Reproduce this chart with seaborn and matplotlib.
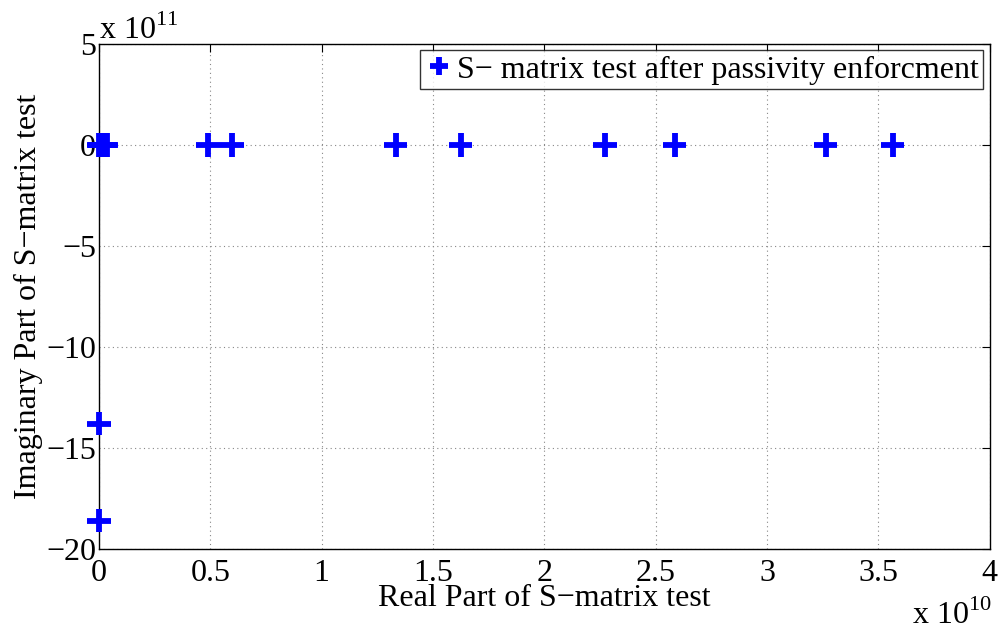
import matplotlib
matplotlib.use("Agg")
import matplotlib.pyplot as plt
import seaborn as sns
import pandas as pd
from matplotlib.ticker import FuncFormatter, MultipleLocator

# Data (real and imaginary parts)
real_part = [0.0, 0.005e10, 0.01e10, 0.015e10, 0.02e10, 0.025e10, 0.03e10, 0.035e10,
             0.489e10, 0.597e10, 1.333e10, 1.625e10, 2.272e10, 2.586e10, 3.264e10, 3.565e10,
             0.0, 0.0]
imag_part = [0.0, 0.0, 0.0, 0.0, 0.0, 0.0, 0.0, 0.0,
             0.0, 0.0, 0.0, 0.0, 0.0, 0.0, 0.0, 0.0,
             -13.8e11, -18.6e11]
series_label = "S\u2212 matrix test after passivity enforcment"

df = pd.DataFrame({"re": real_part, "im": imag_part, "s": series_label})

sns.set_theme(style="white")
plt.rcParams["font.family"] = ["Liberation Serif", "DejaVu Serif"]
plt.rcParams["mathtext.fontset"] = "custom"
plt.rcParams["mathtext.rm"] = "Liberation Serif"
plt.rcParams["text.color"] = "black"
plt.rcParams["axes.labelcolor"] = "black"

fig = plt.figure(figsize=(10.03, 6.3), dpi=100)
ax = fig.add_axes([0.0987, 0.1286, 0.888, 0.8016])

sns.scatterplot(data=df, x="re", y="im", hue="s", palette=[(0, 0, 1)], marker="+",
                s=280, linewidth=4.2, ax=ax, zorder=3, clip_on=False)

ax.set_xlim(0, 4e10)
ax.set_ylim(-20e11, 5e11)
ax.xaxis.set_major_locator(MultipleLocator(0.5e10))
ax.yaxis.set_major_locator(MultipleLocator(5e11))
ax.xaxis.set_major_formatter(FuncFormatter(lambda v, p: ("%g" % (v / 1e10)).replace("-", "\u2212")))
ax.yaxis.set_major_formatter(FuncFormatter(lambda v, p: ("%g" % (v / 1e11)).replace("-", "\u2212")))

ax.grid(True, linestyle=(0, (1, 3)), color="#888888", linewidth=0.8)
for sp in ax.spines.values():
    sp.set_color("black")
    sp.set_linewidth(1.0)
ax.tick_params(direction="in", length=6, width=0.8, top=True, right=True,
               labelsize=23, colors="black", pad=2)
ax.tick_params(axis="x", pad=7)

ax.set_xlabel("Real Part of S\u2212matrix test", fontsize=23, labelpad=-3)
ax.set_ylabel("Imaginary Part of S\u2212matrix test", fontsize=23, labelpad=2)

ax.text(0.0, 0.995, "x 10$^{11}$", transform=ax.transAxes, fontsize=23,
        ha="left", va="bottom")
fig.text(992 / 1003, 1 - 624 / 630, "x 10$^{10}$", fontsize=23,
         ha="right", va="baseline")

leg = ax.legend(loc="upper right", fontsize=23, frameon=True, fancybox=False,
                handletextpad=0.1, borderpad=0.15, handlelength=0.9,
                borderaxespad=0.2, markerscale=0.8)
leg.get_frame().set_edgecolor("black")
leg.get_frame().set_linewidth(1.0)

fig.savefig("out.png", dpi=100, facecolor="white")
